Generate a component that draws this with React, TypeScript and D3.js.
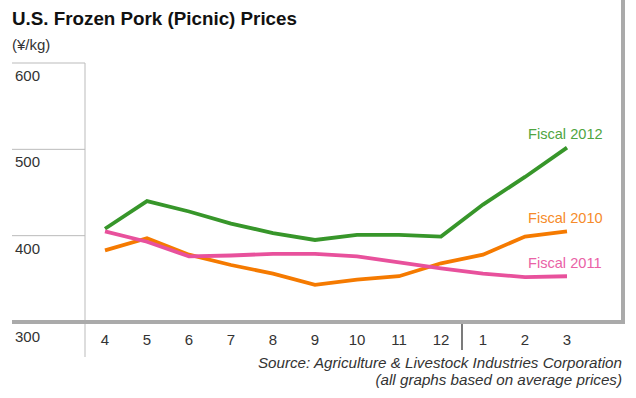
import React from "react";
import * as d3 from "d3";

const months = ["4", "5", "6", "7", "8", "9", "10", "11", "12", "1", "2", "3"];
const fiscal2012 = [408, 440, 428, 414, 403, 395, 401, 401, 399, 436, 468, 502];
const fiscal2010 = [383, 397, 378, 366, 356, 343, 349, 353, 368, 378, 399, 405];
const fiscal2011 = [405, 393, 376, 377, 379, 379, 376, 369, 362, 356, 352, 353];
const yTicks = [300, 400, 500, 600];
const seriesNames = ["Fiscal 2012", "Fiscal 2010", "Fiscal 2011"];

const W = 636;
const H = 398;
const FONT = "'Liberation Sans', Arial, Helvetica, sans-serif";

export default function App() {
  const x = d3.scalePoint<string>().domain(months).range([105, 567]);
  const y = d3.scaleLinear().domain([300, 600]).range([322, 63]);
  const line = d3
    .line<number>()
    .x((_, i) => x(months[i]) as number)
    .y((d) => y(d));

  const series = [
    { name: seriesNames[0], values: fiscal2012, color: "#37962a", text: "#4fa541", ly: 139 },
    { name: seriesNames[1], values: fiscal2010, color: "#f57a00", text: "#f68b2a", ly: 223 },
    { name: seriesNames[2], values: fiscal2011, color: "#e8519c", text: "#ea62a6", ly: 268 },
  ];

  const sepX = ((x("12") as number) + (x("1") as number)) / 2;

  return (
    <svg
      width={W}
      height={H}
      style={{ position: "absolute", left: 0, top: 0, background: "#fff" }}
      fontFamily={FONT}
    >
      <text x={12} y={25} fontSize={18.8} fontWeight="bold" fill="#111">
        U.S. Frozen Pork (Picnic) Prices
      </text>
      <text x={12} y={50} fontSize={15} fill="#333">
        (¥/kg)
      </text>

      {/* left panel gridlines */}
      {yTicks
        .filter((t) => t !== 300)
        .map((t) => (
          <line key={t} x1={12} x2={85} y1={y(t)} y2={y(t)} stroke="#bbb" strokeWidth={1} />
        ))}
      <line x1={85} x2={85} y1={y(600)} y2={357} stroke="#bbb" strokeWidth={1} />
      {yTicks.map((t) => (
        <text key={t} x={15} y={y(t) + (t === 300 ? 20 : 18)} fontSize={15} fill="#333">
          {t}
        </text>
      ))}

      {/* frame */}
      <line x1={623} x2={623} y1={0} y2={324} stroke="#aaa" strokeWidth={4} />
      <line x1={12} x2={625} y1={322} y2={322} stroke="#aaa" strokeWidth={4} />

      {/* x labels */}
      {months.map((m) => (
        <text key={m} x={x(m)} y={345} fontSize={15} fill="#333" textAnchor="middle">
          {m}
        </text>
      ))}
      <line x1={sepX} x2={sepX} y1={324} y2={350} stroke="#222" strokeWidth={1.2} />

      {/* series */}
      {series.map((s) => (
        <path
          key={s.name}
          d={line(s.values) || ""}
          fill="none"
          stroke={s.color}
          strokeWidth={3.8}
          strokeLinejoin="miter"
        />
      ))}
      {series.map((s) => (
        <text key={s.name + "l"} x={528} y={s.ly} fontSize={14.6} fill={s.text}>
          {s.name}
        </text>
      ))}

      <text x={622} y={368} fontSize={15.2} fontStyle="italic" fill="#333" textAnchor="end">
        Source: Agriculture &amp; Livestock Industries Corporation
      </text>
      <text x={622} y={385} fontSize={15.2} fontStyle="italic" fill="#333" textAnchor="end">
        (all graphs based on average prices)
      </text>
    </svg>
  );
}
